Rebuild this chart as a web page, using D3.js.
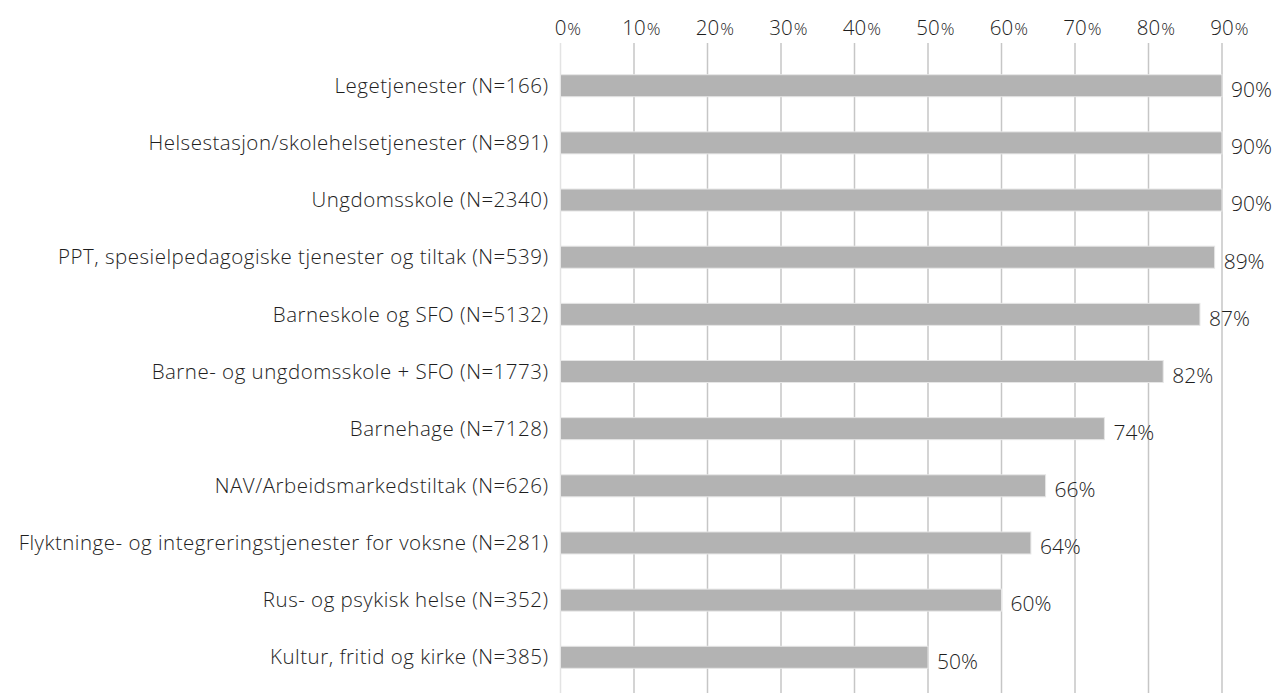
<!DOCTYPE html>
<html>
<head>
<meta charset="utf-8">
<script src="https://cdn.jsdelivr.net/npm/d3@7"></script>
<style>
  body { margin: 0; background: #fff; }
  text { font-family: "Open Sans", sans-serif; font-weight: 300; fill: #1e1e1e; }
</style>
</head>
<body>
<div id="chart"></div>
<script>
// categories and shares (percent)
const categories = [
  "Legetjenester (N=166)",
  "Helsestasjon/skolehelsetjenester (N=891)",
  "Ungdomsskole (N=2340)",
  "PPT, spesielpedagogiske tjenester og tiltak (N=539)",
  "Barneskole og SFO (N=5132)",
  "Barne- og ungdomsskole + SFO (N=1773)",
  "Barnehage (N=7128)",
  "NAV/Arbeidsmarkedstiltak (N=626)",
  "Flyktninge- og integreringstjenester for voksne (N=281)",
  "Rus- og psykisk helse (N=352)",
  "Kultur, fritid og kirke (N=385)"
];
const values = [90, 90, 90, 89, 87, 82, 74, 66, 64, 60, 50];
const ticks = [0, 10, 20, 30, 40, 50, 60, 70, 80, 90];

const W = 1275, H = 693;
const margin = {top: 57, left: 560.5, right: 53, bottom: 7};

const svg = d3.select("#chart").append("svg")
    .attr("width", W)
    .attr("height", H);

const x = d3.scaleLinear()
    .domain([0, 90])
    .range([margin.left, W - margin.right]);

const y = d3.scaleBand()
    .domain(categories)
    .range([margin.top, H - margin.bottom])
    .paddingInner(0.615)
    .paddingOuter(0.31);

// gridlines
svg.append("g")
  .selectAll("line")
  .data(ticks)
  .join("line")
    .attr("x1", d => x(d))
    .attr("x2", d => x(d))
    .attr("y1", 43)
    .attr("y2", H)
    .attr("stroke", d => d === 0 ? "#e3e3e3" : "#c6c6c6")
    .attr("stroke-width", 1.5);

// tick labels on top: number centred on the gridline, smaller % after it
const tg = svg.append("g")
  .selectAll("g")
  .data(ticks)
  .join("g");
tg.append("text")
    .attr("class", "num")
    .attr("x", d => x(d))
    .attr("y", 35)
    .attr("text-anchor", "middle")
    .style("font-size", "20.5px")
    .text(d => d);
tg.append("text")
    .attr("x", function(d) {
      const w = this.parentNode.querySelector(".num").getComputedTextLength();
      return x(d) + w / 2 + 1;
    })
    .attr("y", 35)
    .style("font-size", "17px")
    .text("%");

// bars
svg.append("g")
  .selectAll("rect")
  .data(values)
  .join("rect")
    .attr("x", x(0))
    .attr("y", (d, i) => y(categories[i]))
    .attr("width", d => x(d) - x(0))
    .attr("height", y.bandwidth())
    .attr("fill", "#b3b3b3")
    .attr("stroke", "#e6e6e6")
    .attr("stroke-width", 1);

// category labels
svg.append("g")
  .selectAll("text")
  .data(categories)
  .join("text")
    .attr("x", margin.left - 12)
    .attr("y", d => y(d) + y.bandwidth() / 2)
    .attr("dy", "0.35em")
    .attr("text-anchor", "end")
    .style("font-size", "20.5px")
    .style("letter-spacing", "0.5px")
    .text(d => d);

// value labels
svg.append("g")
  .selectAll("text")
  .data(values)
  .join("text")
    .attr("x", d => x(d) + 9)
    .attr("y", (d, i) => y(categories[i]) + y.bandwidth() / 2 + 4)
    .attr("dy", "0.35em")
    .style("font-size", "21px")
    .text(d => d + "%");
</script>
</body>
</html>
